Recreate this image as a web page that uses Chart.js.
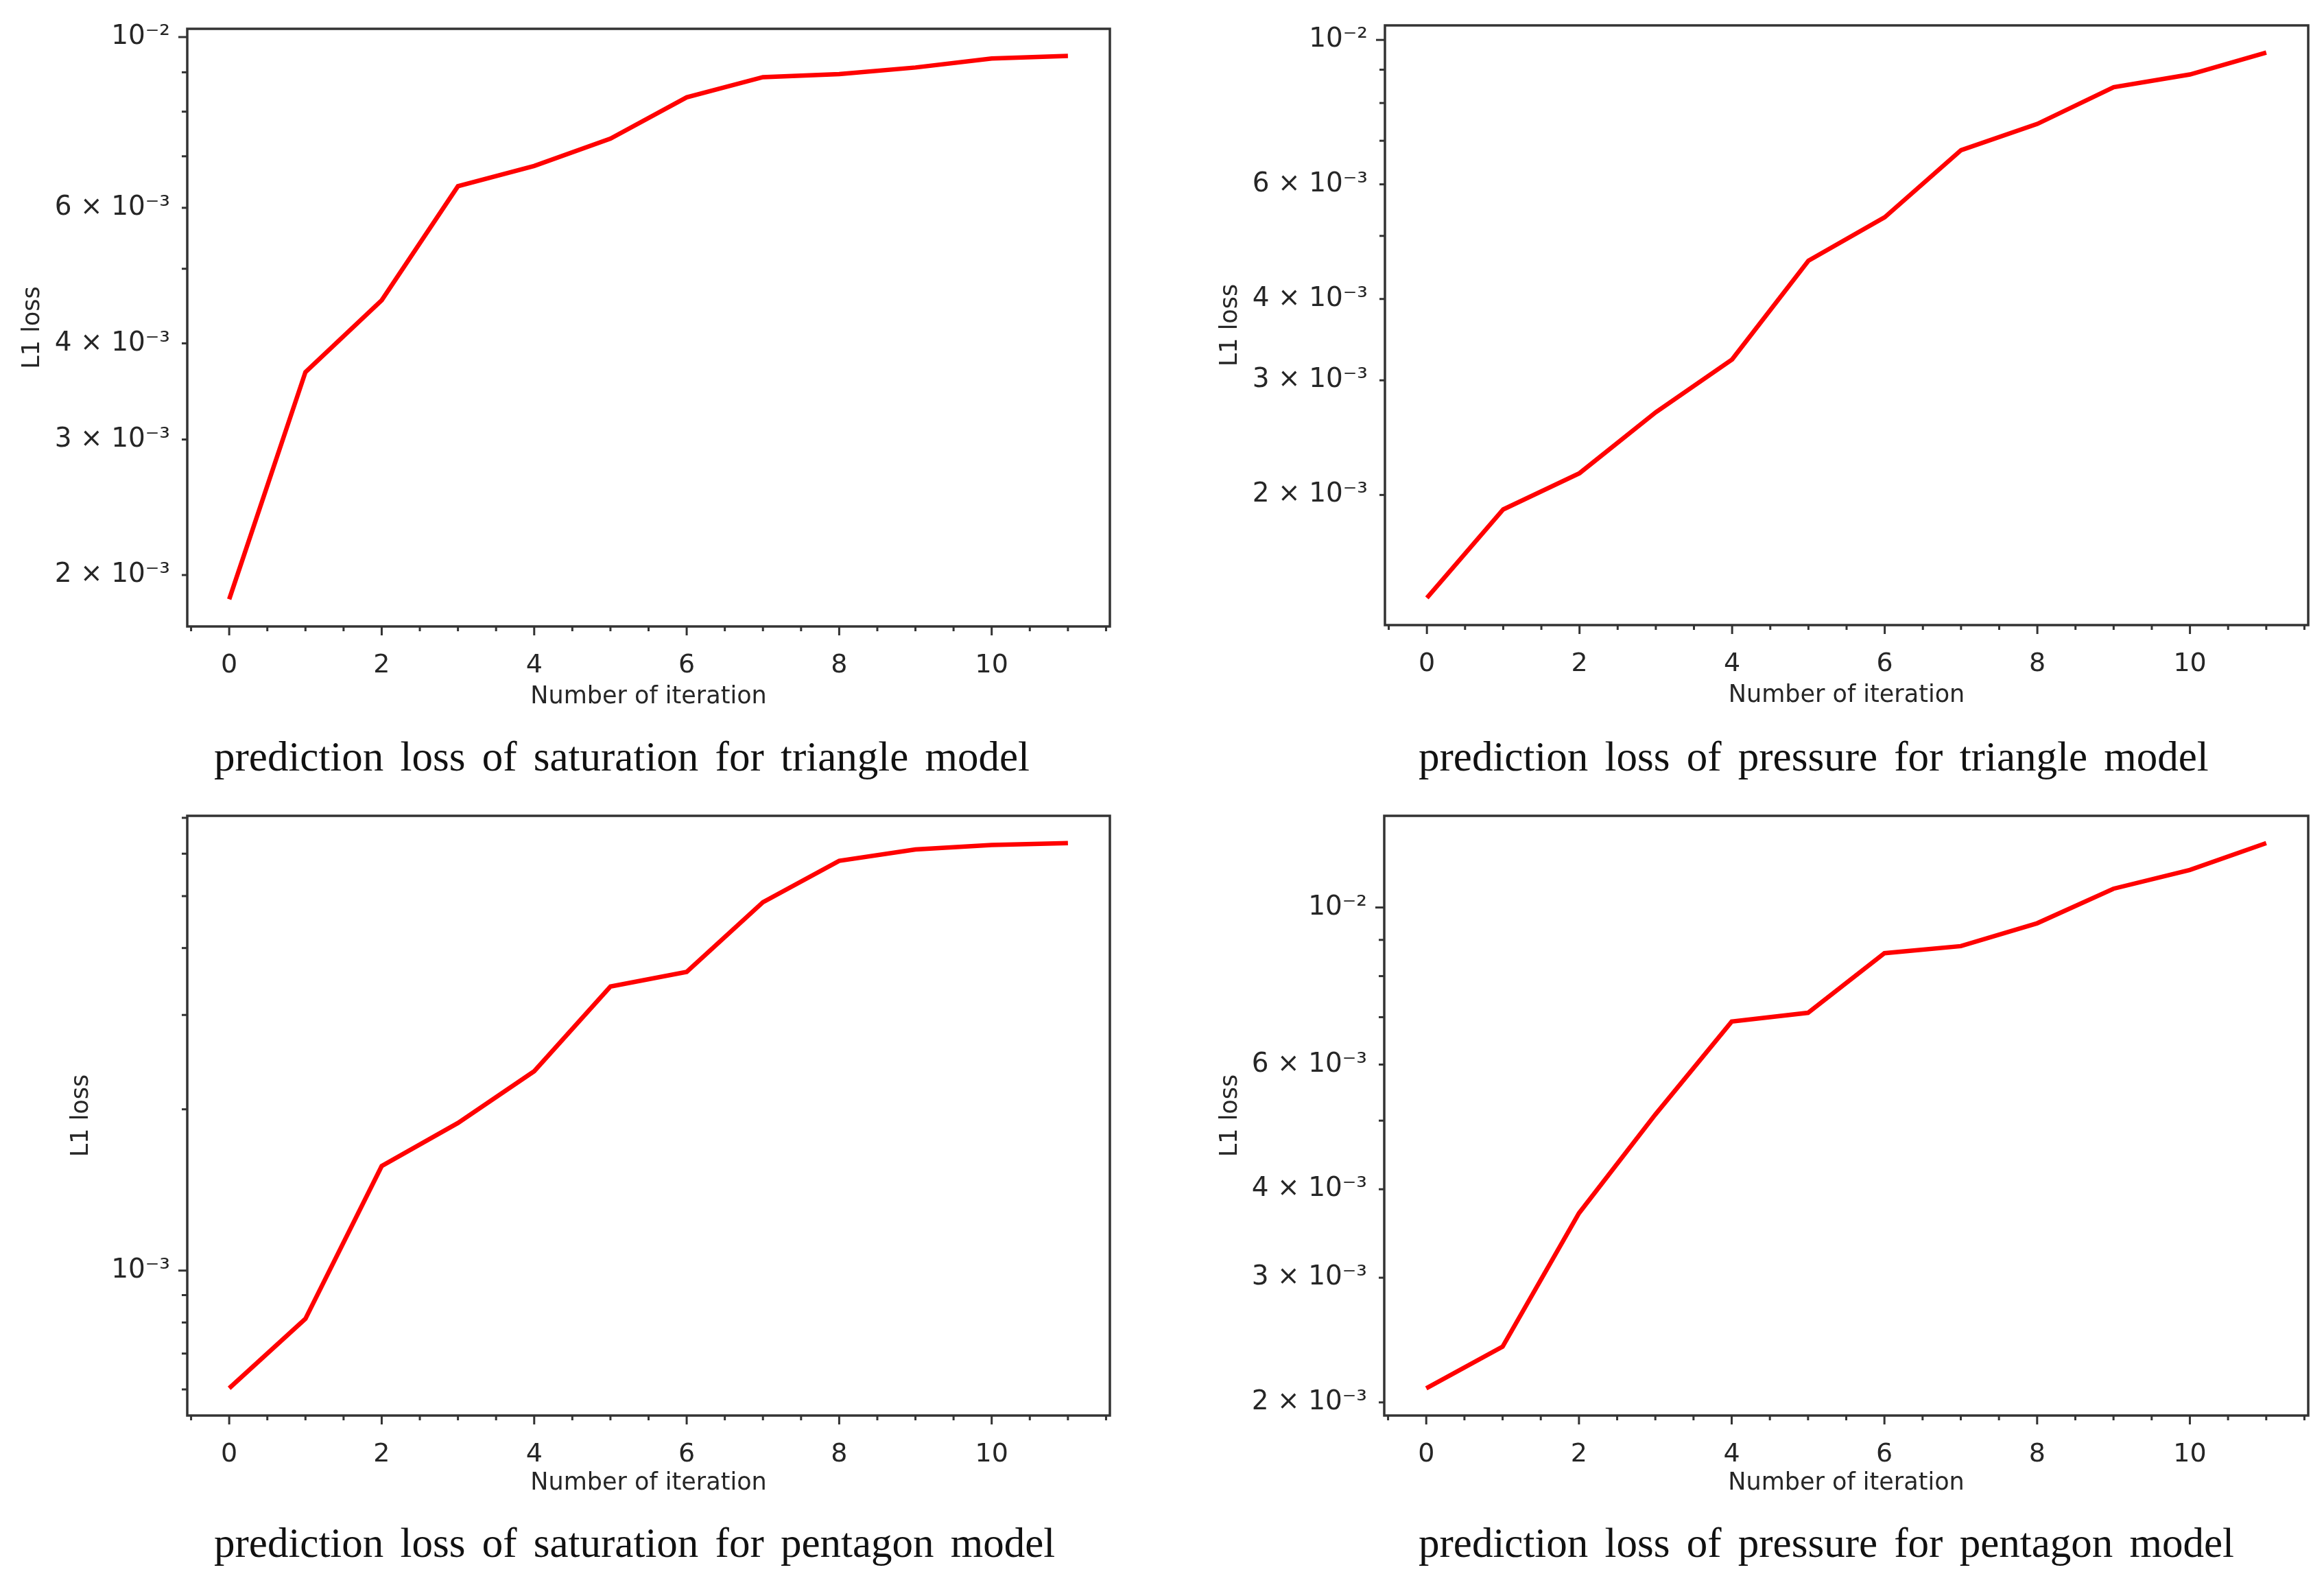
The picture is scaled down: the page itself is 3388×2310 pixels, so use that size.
<!DOCTYPE html>
<html>
<head>
<meta charset="utf-8">
<script src="https://cdn.jsdelivr.net/npm/chart.js@4.4.1/dist/chart.umd.min.js"></script>
<style>
    html, body { margin: 0; padding: 0; background: #fff; }
    body { position: relative; width: 3388px; height: 2310px; overflow: hidden; }
    canvas { position: absolute; }
    .caption {
        position: absolute;
        font-family: "Liberation Serif", "Times New Roman", serif;
        font-size: 61px;
        line-height: 61px;
        word-spacing: 9px;
        color: #111;
        white-space: nowrap;
    }
</style>
</head>
<body>
<canvas id="satTriangleChart"></canvas>
<canvas id="presTriangleChart"></canvas>
<canvas id="satPentagonChart"></canvas>
<canvas id="presPentagonChart"></canvas>

<div class="caption" style="left:312px; top:1072px;">prediction loss of saturation for triangle model</div>
<div class="caption" style="left:2068px; top:1072px;">prediction loss of pressure for triangle model</div>
<div class="caption" style="left:312px; top:2218px;">prediction loss of saturation for pentagon model</div>
<div class="caption" style="left:2068px; top:2218px;">prediction loss of pressure for pentagon model</div>

<script>
// iterations on the x axis
const iterations = [0, 1, 2, 3, 4, 5, 6, 7, 8, 9, 10, 11];

// L1 loss per iteration
const satTriangle = [1.86e-3, 3.67e-3, 4.55e-3, 6.40e-3, 6.80e-3, 7.38e-3, 8.35e-3, 8.87e-3, 8.95e-3, 9.13e-3, 9.38e-3, 9.45e-3];
const presTriangle = [1.39e-3, 1.90e-3, 2.16e-3, 2.68e-3, 3.23e-3, 4.58e-3, 5.34e-3, 6.77e-3, 7.43e-3, 8.46e-3, 8.85e-3, 9.56e-3];
const satPentagon = [6.03e-4, 8.13e-4, 1.567e-3, 1.886e-3, 2.356e-3, 3.39e-3, 3.61e-3, 4.87e-3, 5.82e-3, 6.11e-3, 6.23e-3, 6.28e-3];
const presPentagon = [2.094e-3, 2.397e-3, 3.70e-3, 5.10e-3, 6.90e-3, 7.10e-3, 8.62e-3, 8.82e-3, 9.50e-3, 1.063e-2, 1.130e-2, 1.233e-2];

// x ticks
const xTicks = [0, 2, 4, 6, 8, 10];
const xMinorTicks = [-0.5, 0.5, 1, 1.5, 2.5, 3, 3.5, 4.5, 5, 5.5, 6.5, 7, 7.5, 8.5, 9, 9.5, 10.5, 11, 11.5];

// y ticks (labelled) and unlabelled minor ticks
const yTicksCommon = [0.002, 0.003, 0.004, 0.006, 0.01];
const yLabelsCommon = ['2 × 10⁻³', '3 × 10⁻³', '4 × 10⁻³', '6 × 10⁻³', '10⁻²'];
const yMinorCommon = [0.005, 0.007, 0.008, 0.009];

const yTicksSatPent = [0.001];
const yLabelsSatPent = ['10⁻³'];
const yMinorSatPent = [0.0006, 0.0007, 0.0008, 0.0009, 0.002, 0.003, 0.004, 0.005, 0.006, 0.007];

Chart.defaults.font.family = 'DejaVu Sans';

// frame around the plot + matplotlib style tick marks
const framePlugin = {
    id: 'frame',
    afterDatasetsDraw(chart, args, opts) {
        const { ctx, chartArea: { left, top, right, bottom }, scales: { x, y } } = chart;
        ctx.save();
        ctx.strokeStyle = '#333';
        ctx.lineWidth = 3;
        const mark = (x1, y1, x2, y2) => {
            ctx.beginPath(); ctx.moveTo(x1, y1); ctx.lineTo(x2, y2); ctx.stroke();
        };
        xTicks.forEach(v => { const p = x.getPixelForValue(v); mark(p, bottom, p, bottom + 13); });
        xMinorTicks.forEach(v => { const p = x.getPixelForValue(v); mark(p, bottom, p, bottom + 7); });
        opts.yAll.forEach(v => {
            const lg = Math.log10(v);
            const len = Math.abs(lg - Math.round(lg)) < 1e-9 ? 13 : 8;
            const p = y.getPixelForValue(v);
            mark(left - len, p, left, p);
        });
        ctx.lineWidth = 3.5;
        ctx.strokeRect(left, top, right - left, bottom - top);
        ctx.restore();
    }
};

// stop tick labels from pushing the plot area around
const noPadding = s => { s.paddingTop = 0; s.paddingBottom = 0; s.paddingLeft = 0; s.paddingRight = 0; };

const makePanel = (id, geo, values, yTicks, yLabels, yMinor) => {
    const canvas = document.getElementById(id);
    const xHeight = geo.xTitleY - geo.plot.b + 21;
    const w = geo.width;
    const h = geo.plot.b - geo.top + xHeight;
    canvas.width = w; canvas.height = h;
    canvas.style.width = w + 'px'; canvas.style.height = h + 'px';
    canvas.style.left = geo.left + 'px'; canvas.style.top = geo.top + 'px';

    // matplotlib-like 5% margin in log space
    const lo = Math.log10(Math.min(...values));
    const hi = Math.log10(Math.max(...values));
    const m = (hi - lo) * 0.05;

    new Chart(canvas, {
        type: 'line',
        data: {
            datasets: [{
                data: iterations.map((it, i) => ({ x: it, y: values[i] })),
                borderColor: '#ff0000',
                borderWidth: 6.5,
                pointRadius: 0,
                tension: 0,
                fill: false
            }]
        },
        options: {
            responsive: false,
            animation: false,
            devicePixelRatio: 1,
            layout: { padding: { top: geo.plot.t - geo.top, right: geo.left + w - geo.plot.r, left: 0, bottom: 0 } },
            plugins: {
                legend: { display: false },
                tooltip: { enabled: false },
                frame: { yAll: yTicks.concat(yMinor) }
            },
            scales: {
                x: {
                    type: 'linear',
                    bounds: 'data',
                    min: -0.55,
                    max: 11.55,
                    grid: { display: false },
                    border: { display: false },
                    afterBuildTicks: s => { s.ticks = xTicks.map(v => ({ value: v })); },
                    afterFit: s => { s.height = xHeight; noPadding(s); },
                    ticks: {
                        autoSkip: false, maxRotation: 0, padding: 26, color: '#262626',
                        font: { size: 38 },
                        callback: v => String(v)
                    },
                    title: {
                        display: true, text: 'Number of iteration', color: '#262626',
                        font: { size: 35 }, padding: { top: 0, bottom: 0 }
                    }
                },
                y: {
                    type: 'logarithmic',
                    bounds: 'data',
                    min: Math.pow(10, lo - m),
                    max: Math.pow(10, hi + m),
                    grid: { display: false },
                    border: { display: false },
                    afterBuildTicks: s => { s.ticks = yTicks.map(v => ({ value: v })); },
                    afterFit: s => { s.width = geo.plot.l - geo.left; noPadding(s); },
                    ticks: {
                        autoSkip: false, padding: 17, color: '#262626',
                        font: { size: 39 },
                        callback: (v, i) => yLabels[i]
                    },
                    title: {
                        display: true, text: 'L1 loss', color: '#262626',
                        font: { size: 35 }, padding: { top: geo.yTitleX - geo.left - 21, bottom: 0 }
                    }
                }
            }
        },
        plugins: [framePlugin]
    });
};

makePanel('satTriangleChart',
    { left: 0, top: 0, width: 1700, plot: { l: 273, t: 42, r: 1618, b: 913 }, yTitleX: 48, xTitleY: 1016 },
    satTriangle, yTicksCommon, yLabelsCommon, yMinorCommon);

makePanel('presTriangleChart',
    { left: 1700, top: 0, width: 1688, plot: { l: 2019, t: 37, r: 3365, b: 911 }, yTitleX: 1794, xTitleY: 1014 },
    presTriangle, yTicksCommon, yLabelsCommon, yMinorCommon);

makePanel('satPentagonChart',
    { left: 0, top: 1140, width: 1700, plot: { l: 273, t: 1189, r: 1618, b: 2063 }, yTitleX: 119, xTitleY: 2162 },
    satPentagon, yTicksSatPent, yLabelsSatPent, yMinorSatPent);

makePanel('presPentagonChart',
    { left: 1700, top: 1140, width: 1688, plot: { l: 2018, t: 1189, r: 3365, b: 2063 }, yTitleX: 1794, xTitleY: 2162 },
    presPentagon, yTicksCommon, yLabelsCommon, yMinorCommon);
</script>
</body>
</html>
